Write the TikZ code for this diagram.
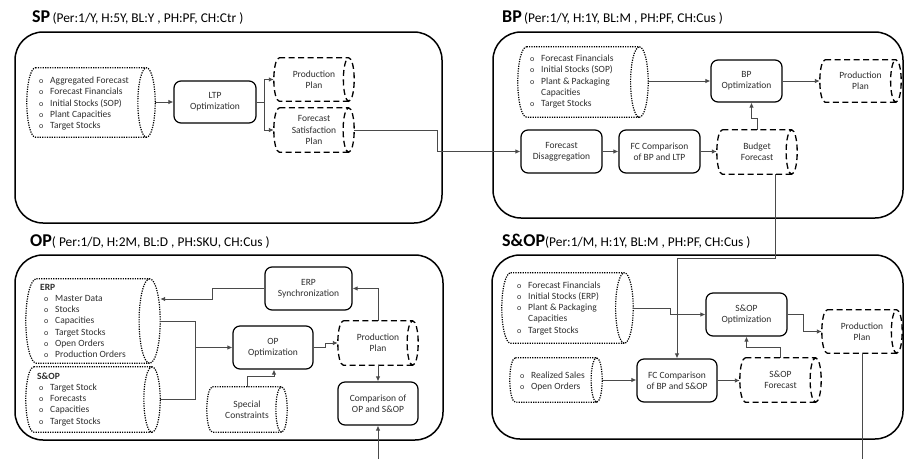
\documentclass[tikz,border=0pt]{standalone}
\usepackage{fontspec}
\setmainfont{Carlito}
\usetikzlibrary{arrows.meta,calc}

\definecolor{txt}{HTML}{2E2E2E}
\definecolor{wirecol}{HTML}{4A4A4A}

\newcommand\bodyfont{\fontsize{9.5}{11.3}\selectfont}
\newcommand\headfont{\fontsize{18}{20}\selectfont\bfseries}
\newcommand\subfont{\fontsize{13.4}{15}\selectfont}
\newcommand\bul{\makebox[11pt][l]{\fontsize{8}{9}\selectfont o}}

% outline of a horizontal storage cylinder drawn round a (borderless) node
\newcommand\drawcyl[2]{%
  \draw[#2] let \p1=(#1.north west), \p2=(#1.south east),
      \n1={(\y1-\y2)/2}, \n2={0.25*\n1} in
    (\x1+\n2,\y1) -- (\x2-\n2,\y1)
      arc[start angle=90, end angle=-270, x radius=\n2, y radius=\n1]
    (\x2-\n2,\y2) -- (\x1+\n2,\y2)
      arc[start angle=270, end angle=90, x radius=\n2, y radius=\n1];
}

\begin{document}
\begin{tikzpicture}[x=1pt, y=-1pt,
  box/.style n args={4}{at={({(#1+#3)/2},{(#2+#4)/2})},
    minimum width={(#3)-(#1)}, minimum height={(#4)-(#2)}},
  frame/.style={draw=black, line width=1.5pt, rounded corners=28pt, inner sep=0pt},
  proc/.style={draw=black, line width=1.2pt, rounded corners=7pt, align=center,
    font=\bodyfont, text=txt, inner sep=0pt},
  store/.style={align=center, font=\bodyfont, text=txt, inner sep=0pt},
  % lists are placed by the baseline of their last line
  lst/.style={anchor=base west, align=left, font=\bodyfont, text=txt, inner sep=0pt},
  title/.style={anchor=base west, inner sep=0pt, text=black},
  dashout/.style={draw=black, line width=1.3pt, dash pattern=on 6pt off 3.5pt},
  dotsrc/.style={draw=black, line width=1.2pt, dash pattern=on 1.2pt off 1.2pt},
  wire/.style={draw=wirecol, line width=0.9pt},
  conn/.style={wire, -{Latex[length=5pt,width=4.5pt]}},
]
\useasboundingbox (0,0) rectangle (905,459);

% ---------- frames and titles ----------
\node[frame, box={15}{32}{442}{223}] (spf) {};
\node[frame, box={493}{32}{903}{218}] (bpf) {};
\node[frame, box={15}{255}{443}{440}] (opf) {};
\node[frame, box={492}{255}{903}{439}] (sopf) {};

\node[title] (tsp) at (32,22.5) {{\headfont SP} {\subfont (Per:1/Y, H:5Y, BL:Y , PH:PF, CH:Ctr )}};
\node[title] (tbp) at (502,22) {{\headfont BP} {\subfont (Per:1/Y, H:1Y, BL:M , PH:PF, CH:Cus )}};
\node[title] (top) at (30,246.5) {{\headfont OP}{\subfont( Per:1/D, H:2M, BL:D , PH:SKU, CH:Cus )}};
\node[title] (tsop) at (502,246) {{\headfont S\&OP}{\subfont(Per:1/M, H:1Y, BL:M , PH:PF, CH:Cus )}};

% ---------- SP ----------
\node[store, box={27}{68}{155}{137}] (spdata) {};
\node[lst] (spl) at (39,128.7) {\bul Aggregated Forecast\\\bul Forecast Financials\\\bul Initial Stocks (SOP)\\\bul Plant Capacities\\\bul Target Stocks};
\node[proc, box={174}{81}{256}{123}] (ltp) {LTP\\Optimization};
\node[store, box={274}{58}{354}{101}] (sppp) {Production\\Plan};
\node[store, box={274}{108}{354}{152}] (spfsp) {Forecast\\Satisfaction\\Plan};

% ---------- BP ----------
\node[store, box={518}{47}{648}{117}] (bpdata) {};
\node[lst] (bpl) at (530,106.7) {\bul Forecast Financials\\\bul Initial Stocks (SOP)\\\bul Plant \& Packaging\\\hspace*{11pt}Capacities\\\bul Target Stocks};
\node[proc, box={711}{60}{782}{102}] (bpopt) {BP\\Optimization};
\node[store, box={820}{60}{901}{102}] (bppp) {Production\\Plan};
\node[proc, box={521}{130}{602}{173}] (fdis) {Forecast\\Disaggregation};
\node[proc, box={619}{130}{700}{173}] (fccbl) {FC Comparison\\of BP and LTP};
\node[store, box={717}{130}{797}{174}] (bf) {Budget\\Forecast};

% ---------- S&OP ----------
\node[store, box={502}{273}{633}{343}] (sdata) {};
\node[lst] (sl) at (517,333.2) {\bul Forecast Financials\\\bul Initial Stocks (ERP)\\\bul Plant \& Packaging\\\hspace*{11pt}Capacities\\\bul Target Stocks};
\node[proc, box={706}{293}{787}{336}] (sopopt) {S\&OP\\Optimization};
\node[store, box={822}{310}{902}{353}] (soppp) {Production\\Plan};
\node[store, box={510}{358}{602}{402}] (sdata2) {};
\node[lst] (sl2) at (520,389.3) {\bul Realized Sales\\\bul Open Orders};
\node[proc, box={637}{359}{717}{402}] (fccbs) {FC Comparison\\of BP and S\&OP};
\node[store, box={740}{358}{821}{402}] (sopfc) {S\&OP\\Forecast};

% ---------- OP ----------
\node[store, box={26}{279}{160}{363}] (erpdb) {};
\node[lst] (erpl) at (40,357.8) {{\bfseries ERP}\\\hspace*{4pt}\bul Master Data\\\hspace*{4pt}\bul Stocks\\\hspace*{4pt}\bul Capacities\\\hspace*{4pt}\bul Target Stocks\\\hspace*{4pt}\bul Open Orders\\\hspace*{4pt}\bul Production Orders};
\node[store, box={26}{367}{160}{432}] (sopdb) {};
\node[lst] (sopl) at (37,424.2) {{\bfseries S\&OP}\\\hspace*{2pt}\bul Target Stock\\\hspace*{2pt}\bul Forecasts\\\hspace*{2pt}\bul Capacities\\\hspace*{2pt}\bul Target Stocks};
\node[proc, box={265}{267}{352}{310}] (erpsync) {ERP\\Synchronization};
\node[proc, box={233}{326}{313}{369}] (opopt) {OP\\Optimization};
\node[store, box={338}{321}{418}{365}] (oppp) {Production\\Plan};
\node[store, box={207}{387}{287}{432}] (spcon) {Special\\Constraints};
\node[proc, box={338}{382}{418}{425}] (cmpop) {Comparison of\\OP and S\&OP};

% ---------- storage outlines ----------
\drawcyl{spdata}{dotsrc}
\drawcyl{bpdata}{dotsrc}
\drawcyl{sdata}{dotsrc}
\drawcyl{sdata2}{dotsrc}
\drawcyl{erpdb}{dotsrc}
\drawcyl{sopdb}{dotsrc}
\drawcyl{spcon}{dotsrc}
\drawcyl{sppp}{dashout}
\drawcyl{spfsp}{dashout}
\drawcyl{bppp}{dashout}
\drawcyl{bf}{dashout}
\drawcyl{soppp}{dashout}
\drawcyl{sopfc}{dashout}
\drawcyl{oppp}{dashout}

% ---------- connectors ----------
\coordinate (spjog) at (437,0);
\coordinate (mrg) at (195,0);
\coordinate (sopout) at (864,459);
\coordinate (opin) at (379,459);

% SP
\draw[conn] (ltp.west -| spdata.east) -- (ltp.west);
\draw[conn] (ltp.east) -- ++(8,0) |- (sppp.west);
\draw[conn] (ltp.east) -- ++(8,0) |- (spfsp.west);
\draw[conn] (spfsp.east) -- (spfsp.east -| spjog) |- (fdis.west);

% BP
\draw[conn] (bpopt.west -| bpdata.east) -- (bpopt.west);
\draw[conn] (bpopt.east) -- (bppp.west);
\draw[conn] (fdis.east) -- (fccbl.west);
\draw[conn] (fccbl.east) -- (fccbl.east -| bf.west);
\draw[conn] (bf.north) -- ++(0,-11) -| ($(bpopt.south)+(5,0)$);
\draw[conn] ($(bf.south)+(18,0)$) -- ++(0,84) -| (fccbs.north);

% S&OP
\draw[conn] (sdata.east) -- ++(37,0) |- (sopopt.west);
\draw[conn] (sopopt.east) -- ++(16,0) |- (soppp.west);
\draw[conn] (sdata2.east) -- (sdata2.east -| fccbs.west);
\draw[conn] (fccbs.east) -- (fccbs.east -| sopfc.west);
\draw[conn] (sopfc.north) -- ++(0,-10) -| (sopopt.south);
\draw[wire] (soppp.south) -- (soppp.south |- sopout);

% OP
\draw[wire] (erpdb.east) -- (erpdb.east -| mrg) -- (sopdb.east -| mrg) -- (sopdb.east);
\draw[conn] (opopt.west -| mrg) -- (opopt.west);
\draw[conn] (opopt.east) -- ++(12,0) |- (oppp.west);
\draw[conn] (spcon.north) -- ++(0,-10) -| ($(opopt.south)+(1,0)$);
\draw[conn] (oppp.north) |- (erpsync.east);
\draw[conn] (erpsync.west) -- ++(-52,0) |- ($(erpdb.east)+(0,-22)$);
\draw[conn] (oppp.south) -- (oppp.south |- cmpop.north);
\draw[conn] (cmpop.south |- opin) -- (cmpop.south);
\end{tikzpicture}
\end{document}
